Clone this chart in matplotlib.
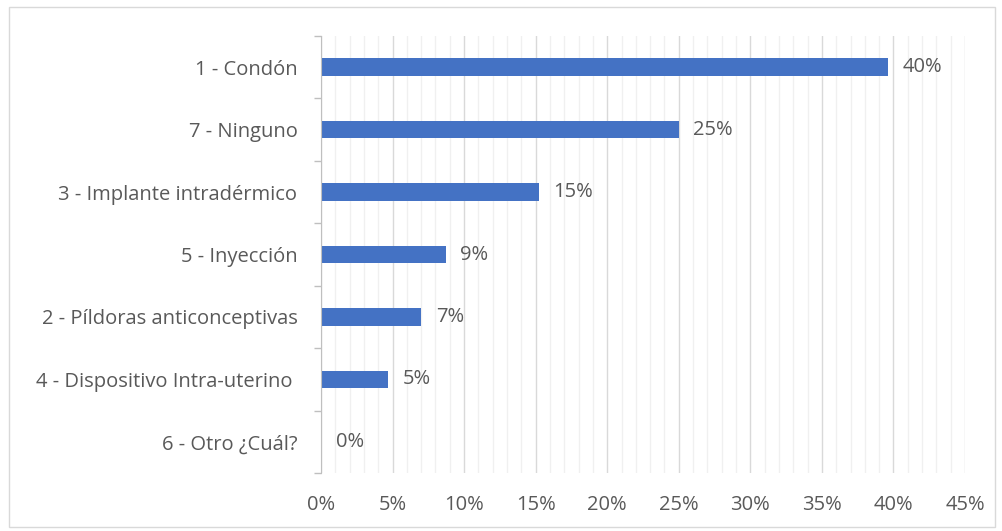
import matplotlib
matplotlib.use("Agg")
import matplotlib.pyplot as plt
from matplotlib.ticker import MultipleLocator, FuncFormatter
from matplotlib.patches import Rectangle

plt.rcParams['font.family'] = ['Open Sans', 'DejaVu Sans']

categories = [
    "1 - Condón",
    "7 - Ninguno",
    "3 - Implante intradérmico",
    "5 - Inyección",
    "2 - Píldoras anticonceptivas",
    "4 - Dispositivo Intra-uterino ",
    "6 - Otro ¿Cuál?",
]
shares = [0.396, 0.250, 0.152, 0.087, 0.070, 0.047, 0.0]

text_color = "#595959"
bar_color = "#4472C4"
fs = 14.5

fig = plt.figure(figsize=(10.03, 5.31), dpi=100)
ax = fig.add_axes([321 / 1003, 1 - 473 / 531, (965 - 321) / 1003, (473 - 36) / 531])

ypos = list(range(len(categories)))
ax.barh(ypos, shares, height=0.28, color=bar_color, zorder=3)
for y, v in zip(ypos, shares):
    ax.annotate(f"{v * 100:.0f}%", (v, y), xytext=(10.5, 0), textcoords="offset points",
                va="center", ha="left", color=text_color, fontsize=fs)

ax.set_xlim(0, 0.45)
ax.set_ylim(len(categories) - 0.5, -0.5)
ax.xaxis.set_major_locator(MultipleLocator(0.05))
ax.xaxis.set_minor_locator(MultipleLocator(0.01))
ax.xaxis.set_major_formatter(FuncFormatter(lambda x, p: f"{x * 100:.0f}%"))
ax.grid(axis="x", which="major", color="#D9D9D9", linewidth=1.0, zorder=0)
ax.grid(axis="x", which="minor", color="#F0F0F0", linewidth=1.0, zorder=0)

ax.set_yticks(ypos)
ax.set_yticklabels(categories)
ax.set_yticks([y + 0.5 for y in [-1] + ypos], minor=True)
ax.tick_params(axis="y", which="major", length=0, pad=17, labelsize=fs, labelcolor=text_color)
ax.tick_params(axis="y", which="minor", length=5, color="#BFBFBF", width=1)
ax.tick_params(axis="x", which="both", length=0, pad=16, labelsize=fs, labelcolor=text_color)

for side in ["top", "right", "bottom"]:
    ax.spines[side].set_visible(False)
ax.spines["left"].set_color("#BFBFBF")
ax.spines["left"].set_zorder(4)

fig.patches.append(Rectangle((9 / 1003, 1 - 527 / 531), (995 - 9) / 1003, (527 - 7) / 531,
                             transform=fig.transFigure, fill=False,
                             edgecolor="#D9D9D9", linewidth=1.0))

fig.savefig("out.png", dpi=100)
